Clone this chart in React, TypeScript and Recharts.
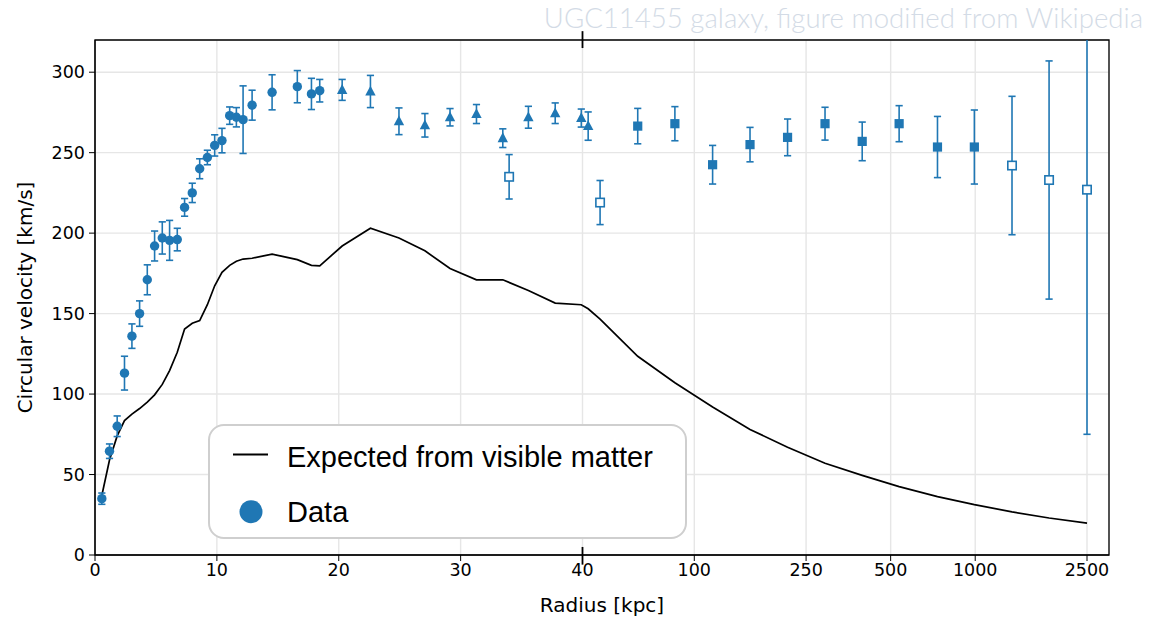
import {
  ComposedChart,
  Line,
  Scatter,
  ErrorBar,
  XAxis,
  YAxis,
  CartesianGrid,
  ReferenceLine,
  ReferenceArea,
  Legend
} from 'recharts';

const BLUE = '#1f77b4';
const TICK_FONT = '"DejaVu Sans", sans-serif';

// Expected from visible matter: radius [kpc] / circular velocity [km/s]
const modelRadius = [0.56, 1.19, 1.82, 2.42, 3.03, 3.66, 4.29, 4.89, 5.52, 6.12, 6.75, 7.35, 7.98, 8.59, 9.22, 9.82, 10.42, 11.05, 11.6, 12.15, 12.89, 14.53, 16.6, 17.76, 18.44, 20.28, 22.6, 24.94, 27.07, 29.13, 31.3, 33.46, 35.56, 37.76, 39.9, 41.9, 46.2, 62.9, 85.3, 116.2, 157.9, 214.8, 292, 396, 536, 734, 993, 1352, 1832, 2500];
const modelVelocity = [37, 59, 74, 83.5, 87.5, 91, 95, 99.5, 106, 114.6, 126, 140.4, 144, 145.7, 155.5, 167.3, 175.6, 180, 182.5, 183.9, 184.4, 187, 183.5, 180, 179.7, 192, 203, 197, 189, 178, 171, 171, 164.4, 156.5, 155.5, 153, 146.5, 123.5, 107, 92, 78, 67, 57, 49.5, 42.5, 36.3, 31.3, 26.8, 23, 19.8];

// measured data, grouped by marker
const circleRadius = [0.56, 1.19, 1.82, 2.42, 3.03, 3.66, 4.29, 4.89, 5.52, 6.12, 6.75, 7.35, 7.98, 8.59, 9.22, 9.82, 10.42, 11.05, 11.6, 12.15, 12.89, 14.53, 16.6, 17.76, 18.44];
const circleVelocity = [35, 64.5, 80, 113, 136, 150, 171, 192, 197, 195.5, 196, 216, 225, 240, 247, 254.5, 257.5, 273, 272, 270.5, 279.5, 287.5, 291, 286.5, 288.5];
const circleError = [3.5, 4.5, 6.4, 10.5, 7.6, 7.9, 9.3, 9.3, 10, 12.4, 7, 5.5, 6, 6.2, 4.5, 6.6, 7.6, 5.4, 6, 21, 9.3, 10.9, 10, 9.7, 7];

const triangleRadius = [20.28, 22.6, 24.94, 27.07, 29.13, 31.3, 33.46, 35.56, 37.76, 39.9, 41.9];
const triangleVelocity = [289, 288, 269.5, 267, 272, 274, 259, 272, 274.5, 271.5, 266.5];
const triangleError = [6.5, 10, 8.3, 7.3, 5.4, 5.9, 5.8, 6.8, 6.4, 5.6, 8.8];

const squareRadius = [62.9, 85.3, 116.2, 157.9, 214.8, 292, 396, 536, 734, 993];
const squareVelocity = [266.5, 268, 242.5, 255, 259.5, 268, 257, 268, 253.5, 253.5];
const squareError = [11, 10.6, 12, 10.7, 11.4, 10.2, 12, 11.2, 19, 23];

const openRadius = [33.98, 46.2, 1352, 1832, 2500];
const openVelocity = [235, 219, 242, 233, 227];
const openError = [13.8, 13.7, 43, 74, 152];

const xTickLabels = [0, 10, 20, 30, 40, 100, 250, 500, 1000, 2500];
const yTicks = [0, 50, 100, 150, 200, 250, 300];

// broken axis: linear up to 40 kpc, log10 beyond
const BREAK = 40;
const LOG_SPAN = 23.05;
const X_MAX = 83.2;
const toAxis = (r: number) => (r <= BREAK ? r : BREAK + LOG_SPAN * Math.log10(r / BREAK));

const xTicks = xTickLabels.map(toAxis);

const modelData = modelRadius.map((r, i) => ({ u: toAxis(r), v: modelVelocity[i] }));
const toPoints = (rs: number[], vs: number[], es: number[]) =>
  rs.map((r, i) => ({ u: toAxis(r), v: vs[i], err: es[i] }));
const circleData = toPoints(circleRadius, circleVelocity, circleError);
const triangleData = toPoints(triangleRadius, triangleVelocity, triangleError);
const squareData = toPoints(squareRadius, squareVelocity, squareError);
const openData = toPoints(openRadius, openVelocity, openError);

// plot box (chart margins + axis sizes), used to clip the error bars
const PLOT = { x: 95, y: 40, w: 1014, h: 515 };

const Dot = (p: any) => <circle cx={p.cx} cy={p.cy} r={4.7} fill={BLUE} />;
const Tri = (p: any) => (
  <polygon points={`${p.cx},${p.cy - 5.8} ${p.cx - 5.2},${p.cy + 4} ${p.cx + 5.2},${p.cy + 4}`} fill={BLUE} />
);
const Sq = (p: any) => <rect x={p.cx - 4.6} y={p.cy - 4.6} width={9.2} height={9.2} fill={BLUE} />;
const OpenSq = (p: any) => (
  <rect x={p.cx - 4.2} y={p.cy - 4.2} width={8.4} height={8.4} fill="#fff" stroke={BLUE} strokeWidth={1.6} />
);

function LegendBox() {
  return (
    <div
      style={{
        position: 'relative',
        width: 479,
        height: 115,
        boxSizing: 'border-box',
        border: '2px solid #cfcfcf',
        borderRadius: 16,
        background: '#fff'
      }}
    >
      <svg width={479} height={115} style={{ position: 'absolute', left: -2, top: -2 }}>
        <line x1={25} y1={30.5} x2={60} y2={30.5} stroke="#000" strokeWidth={2} />
        <text x={79} y={42.7} fontSize={29} fontFamily='"Liberation Sans", Arial, sans-serif' fill="#000">
          Expected from visible matter
        </text>
        <circle cx={43} cy={87.7} r={11.5} fill={BLUE} />
        <text x={79} y={97.7} fontSize={29} fontFamily='"Liberation Sans", Arial, sans-serif' fill="#000">
          Data
        </text>
      </svg>
    </div>
  );
}

const YLabel = (props: any) => {
  const { viewBox } = props;
  const cx = 25;
  const cy = viewBox.y + viewBox.height / 2;
  return (
    <text
      x={cx}
      y={cy}
      transform={`rotate(-90 ${cx} ${cy})`}
      textAnchor="middle"
      dominantBaseline="central"
      fontSize={20}
      fontFamily={TICK_FONT}
      fill="#000"
    >
      Circular velocity [km/s]
    </text>
  );
};

export default function App() {
  const tickStyle = { fill: '#000', fontSize: 17.5, fontFamily: TICK_FONT };
  const barProps = { dataKey: 'err', direction: 'y' as const, width: 3.6, stroke: BLUE, strokeWidth: 1.6, clipPath: 'url(#plot-area-clip)' };
  return (
    <div style={{ position: 'absolute', left: 0, top: 0, width: 1158, height: 618, background: '#fff' }}>
      <svg width={0} height={0} style={{ position: 'absolute' }}>
        <defs>
          <clipPath id="plot-area-clip" clipPathUnits="userSpaceOnUse">
            <rect x={PLOT.x} y={PLOT.y} width={PLOT.w} height={PLOT.h} />
          </clipPath>
        </defs>
      </svg>
      <div
        style={{
          position: 'absolute',
          right: 15,
          top: 3,
          fontFamily: 'Lato, "Open Sans", sans-serif',
          fontWeight: 300,
          fontSize: 27.6,
          lineHeight: '30px',
          color: '#d3dbe6',
          whiteSpace: 'nowrap'
        }}
      >
        UGC11455 galaxy, figure modified from Wikipedia
      </div>
      <ComposedChart width={1158} height={618} margin={{ top: 40, right: 49, bottom: 0, left: 0 }}>
        <CartesianGrid stroke="#e6e6e6" strokeWidth={1.4} />
        <XAxis
          type="number"
          dataKey="u"
          domain={[0, X_MAX]}
          ticks={xTicks}
          interval={0}
          allowDataOverflow
          height={63}
          tickFormatter={(u: number) => String(xTickLabels[xTicks.findIndex((t) => Math.abs(t - u) < 1e-6)])}
          tick={tickStyle}
          tickSize={6}
          tickMargin={3}
          stroke="#000"
          label={{ value: 'Radius [kpc]', position: 'insideBottom', offset: 6, fill: '#000', fontSize: 20, fontFamily: TICK_FONT }}
        />
        <YAxis
          type="number"
          dataKey="v"
          domain={[0, 320]}
          ticks={yTicks}
          interval={0}
          allowDataOverflow
          width={95}
          tick={tickStyle}
          tickSize={6}
          tickMargin={4}
          stroke="#000"
          label={<YLabel />}
        />
        <ReferenceArea x1={0} x2={X_MAX} y1={0} y2={320} fill="none" stroke="#000" strokeWidth={1.3} ifOverflow="visible" />
        <ReferenceLine segment={[{ x: BREAK, y: 325.5 }, { x: BREAK, y: 315 }]} stroke="#000" strokeWidth={1.8} ifOverflow="visible" />
        <ReferenceLine segment={[{ x: BREAK, y: 5 }, { x: BREAK, y: -6 }]} stroke="#000" strokeWidth={1.8} ifOverflow="visible" />
        <Line
          data={modelData}
          dataKey="v"
          type="linear"
          stroke="#000"
          strokeWidth={1.7}
          dot={false}
          isAnimationActive={false}
          name="Expected from visible matter"
        />
        <Scatter data={circleData} shape={Dot} isAnimationActive={false} name="Data">
          <ErrorBar {...barProps} />
        </Scatter>
        <Scatter data={triangleData} shape={Tri} isAnimationActive={false} legendType="none">
          <ErrorBar {...barProps} />
        </Scatter>
        <Scatter data={squareData} shape={Sq} isAnimationActive={false} legendType="none">
          <ErrorBar {...barProps} />
        </Scatter>
        <Scatter data={openData} shape={OpenSq} isAnimationActive={false} legendType="none">
          <ErrorBar {...barProps} />
        </Scatter>
        <Legend
          layout="horizontal"
          verticalAlign="middle"
          align="center"
          content={() => <LegendBox />}
          wrapperStyle={{ left: 208, top: 424, width: 479, height: 115 }}
        />
      </ComposedChart>
    </div>
  );
}
